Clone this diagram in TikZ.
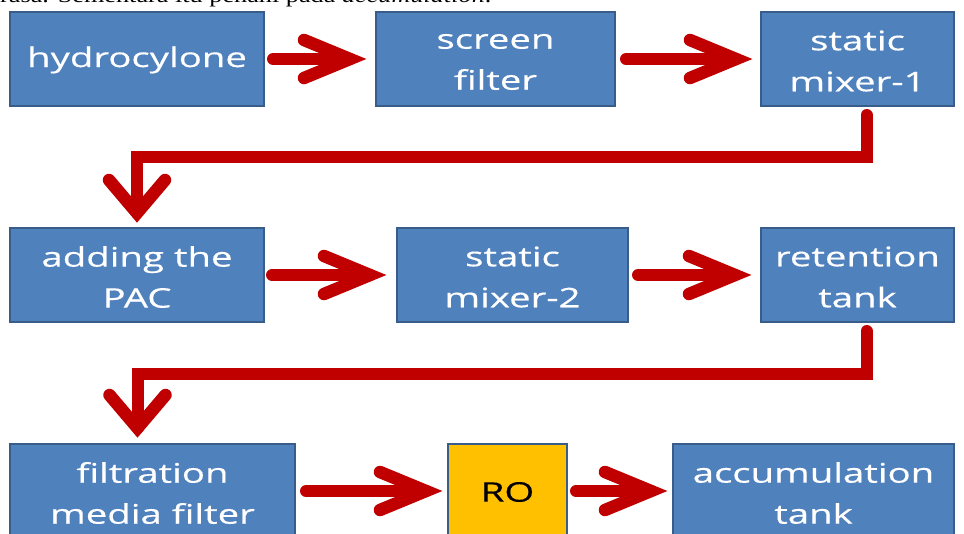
\documentclass[tikz,border=0pt]{standalone}
\usepackage{fontspec}
\newfontfamily\boxfont[FakeStretch=1.42,FakeBold=0.4]{Open Sans}
\newfontfamily\topfont[FakeStretch=1.25]{Liberation Serif}
\definecolor{boxblue}{HTML}{4F81BD}
\definecolor{boxedge}{HTML}{385D8A}
\definecolor{royellow}{HTML}{FFC000}
\definecolor{arrowred}{HTML}{C00000}
\tikzset{
  procbox/.style={draw=boxedge, line width=2pt, fill=boxblue,
    inner sep=0pt, outer sep=0pt, anchor=north west, minimum height=94pt},
  robox/.style={procbox, fill=royellow},
  boxtext/.style={text=white, font=\boxfont\fontsize{27}{41}\selectfont,
    align=center, inner sep=0pt},
  rotext/.style={boxtext, text=black},
  redline/.style={draw=arrowred, line width=12pt, line cap=round, line join=miter},
  redhead/.style={draw=arrowred, line width=12.5pt, line cap=round, line join=miter}
}
\begin{document}
\begin{tikzpicture}[x=1pt,y=-1pt]
\useasboundingbox (0,0) rectangle (964,533);
\clip (0,0) rectangle (964,533);
\node[anchor=base west, inner sep=0pt, font=\topfont\fontsize{21}{24}\selectfont] (cap) at (0,2) {rasa. Sementara itu pehani pada \textit{accumulation}.};
% boxes
\node[procbox, minimum width=254pt] (hyd) at (10,12) {};
\node[procbox, minimum width=239pt] (scr) at (376,12) {};
\node[procbox, minimum width=193pt] (sm1) at (761,12) {};
\node[procbox, minimum width=254pt] (pac) at (10,228) {};
\node[procbox, minimum width=231pt] (sm2) at (397,228) {};
\node[procbox, minimum width=193pt] (ret) at (761,228) {};
\node[procbox, minimum width=285pt] (fil) at (10,444) {};
\node[robox, minimum width=119pt] (ro) at (448,444) {};
\node[procbox, minimum width=281pt] (acc) at (673,444) {};
% box texts
\node[boxtext] (hydt) at ([shift={(0,1)}]hyd.center) {hydrocylone};
\node[boxtext] (scrt) at ([shift={(0,3)}]scr.center) {screen\\filter};
\node[boxtext] (sm1t) at ([shift={(0,2)}]sm1.center) {static\\mixer-1};
\node[boxtext] (pact) at ([shift={(0,2)}]pac.center) {adding the\\PAC};
\node[boxtext] (sm2t) at ([shift={(0,2)}]sm2.center) {static\\mixer-2};
\node[boxtext] (rett) at ([shift={(0,2)}]ret.center) {retention\\tank};
\node[boxtext] (filt) at ([shift={(0,2)}]fil.center) {filtration\\media filter};
\node[rotext] (rot) at ([shift={(0,1)}]ro.center) {RO};
\node[boxtext] (acct) at ([shift={(0,2)}]acc.center) {accumulation\\tank};
% row 1
\draw[redline] ([shift={(9,0)}]hyd.east) -- ([shift={(-26,0)}]scr.west);
\draw[redhead] ([shift={(-72,-19)}]scr.west) -- ([shift={(-26,0)}]scr.west) -- ([shift={(-72,19)}]scr.west);
\draw[redline] ([shift={(11,0)}]scr.east) -- ([shift={(-25,0)}]sm1.west);
\draw[redhead] ([shift={(-71,-19)}]sm1.west) -- ([shift={(-25,0)}]sm1.west) -- ([shift={(-71,19)}]sm1.west);
% down 1
\draw[redline] ([shift={(9,9)}]sm1.south) |- ([shift={(0,-71)}]pac.north) -- ([shift={(0,-15)}]pac.north);
\draw[redhead] ([shift={(-28,-48)}]pac.north) -- ([shift={(0,-15)}]pac.north) -- ([shift={(28,-48)}]pac.north);
% row 2
\draw[redline] ([shift={(8,0)}]pac.east) -- ([shift={(-27,0)}]sm2.west);
\draw[redhead] ([shift={(-73,-19)}]sm2.west) -- ([shift={(-27,0)}]sm2.west) -- ([shift={(-73,19)}]sm2.west);
\draw[redline] ([shift={(10,0)}]sm2.east) -- ([shift={(-26,0)}]ret.west);
\draw[redhead] ([shift={(-72,-19)}]ret.west) -- ([shift={(-26,0)}]ret.west) -- ([shift={(-72,19)}]ret.west);
% down 2
\draw[redline] ([shift={(9,9)}]ret.south) |- ([shift={(-15,-70)}]fil.north) -- ([shift={(-15,-16)}]fil.north);
\draw[redhead] ([shift={(-43,-49)}]fil.north) -- ([shift={(-15,-16)}]fil.north) -- ([shift={(13,-49)}]fil.north);
% row 3
\draw[redline] ([shift={(11,0)}]fil.east) -- ([shift={(-22,0)}]ro.west);
\draw[redhead] ([shift={(-68,-19)}]ro.west) -- ([shift={(-22,0)}]ro.west) -- ([shift={(-68,19)}]ro.west);
\draw[redline] ([shift={(9,0)}]ro.east) -- ([shift={(-22,0)}]acc.west);
\draw[redhead] ([shift={(-68,-19)}]acc.west) -- ([shift={(-22,0)}]acc.west) -- ([shift={(-68,19)}]acc.west);
\end{tikzpicture}
\end{document}
